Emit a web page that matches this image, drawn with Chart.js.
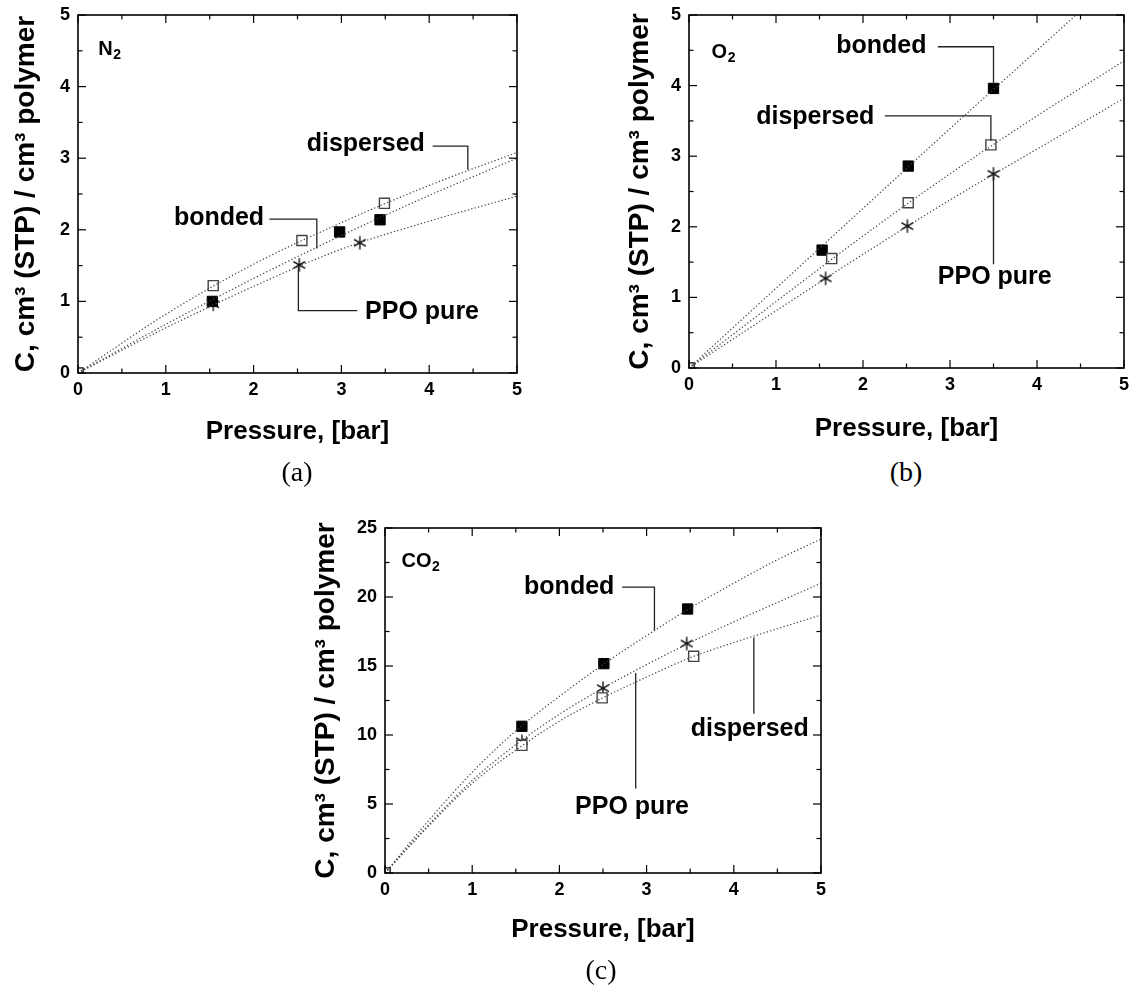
<!DOCTYPE html>
<html><head><meta charset="utf-8">
<script src="https://cdn.jsdelivr.net/npm/chart.js@4.4.1/dist/chart.umd.min.js"></script>
<style>
html,body{margin:0;padding:0;background:#fff;}
#wrap{position:relative;width:1133px;height:995px;overflow:hidden;background:#fff;}
.pan{position:absolute;}
.cap{position:absolute;font-family:"Liberation Serif","Times New Roman",serif;font-size:28px;color:#000;transform:translate(-50%,-50%);white-space:nowrap;}
</style></head><body>
<div id="wrap">
 <canvas id="ca" class="pan" width="560" height="455" style="left:0px;top:0px"></canvas>
 <canvas id="cb" class="pan" width="553" height="455" style="left:580px;top:0px"></canvas>
 <canvas id="cc" class="pan" width="560" height="515" style="left:280px;top:480px"></canvas>
 <div class="cap" style="left:297px;top:472px">(a)</div>
 <div class="cap" style="left:906px;top:472px">(b)</div>
 <div class="cap" style="left:601px;top:970px">(c)</div>
</div>
<script>
// ---------- tick values / labels ----------
const xTicks = [0, 1, 2, 3, 4, 5];
const xTickLabels = ['0', '1', '2', '3', '4', '5'];
const xMinor = [0.5, 1.5, 2.5, 3.5, 4.5];
const yTicksAB = [0, 1, 2, 3, 4, 5];
const yTickLabelsAB = ['0', '1', '2', '3', '4', '5'];
const yMinorAB = [0.5, 1.5, 2.5, 3.5, 4.5];
const yTicksC = [0, 5, 10, 15, 20, 25];
const yTickLabelsC = ['0', '5', '10', '15', '20', '25'];
const yMinorC = [2.5, 7.5, 12.5, 17.5, 22.5];

const xTitle = 'Pressure, [bar]';
const yTitle = 'C, cm³ (STP) / cm³ polymer';
const seriesNames = ['dispersed', 'bonded', 'PPO pure'];

// ---------- (a) N2 ----------
const n2FitX = [0, 1, 2, 3, 4, 5];
const n2DispersedFit = [0, 0.82, 1.52, 2.10, 2.62, 3.08];
const n2BondedFit = [0, 0.68, 1.32, 1.92, 2.48, 3.00];
const n2PureFit = [0, 0.63, 1.21, 1.73, 2.12, 2.47];
const n2DispersedX = [0, 1.54, 2.55, 3.49];
const n2DispersedY = [0, 1.22, 1.85, 2.37];
const n2BondedX = [0, 1.53, 2.98, 3.44];
const n2BondedY = [0, 1.00, 1.97, 2.14];
const n2PureX = [0, 1.54, 2.52, 3.21];
const n2PureY = [0, 0.96, 1.51, 1.82];
const n2LeadDispX = [4.04, 4.44, 4.44];
const n2LeadDispY = [3.17, 3.17, 2.84];
const n2LeadBondX = [2.18, 2.72, 2.72];
const n2LeadBondY = [2.15, 2.15, 1.74];
const n2LeadPureX = [2.51, 2.51, 3.18];
const n2LeadPureY = [1.50, 0.87, 0.87];
const n2LabelX = [3.95, 2.12, 3.27];
const n2LabelY = [3.19, 2.16, 0.85];
const n2LabelAlign = ['right', 'right', 'left'];

// ---------- (b) O2 ----------
const o2FitX = [0, 1, 2, 3, 4, 5];
const o2DispersedFit = [0, 0.94, 1.87, 2.75, 3.57, 4.35];
const o2BondedFit = [0, 1.13, 2.26, 3.39, 4.50, 5.62];
const o2PureFit = [0, 0.81, 1.61, 2.38, 3.10, 3.82];
const o2DispersedX = [0, 1.64, 2.52, 3.47];
const o2DispersedY = [0, 1.55, 2.34, 3.16];
const o2BondedX = [0, 1.53, 2.52, 3.50];
const o2BondedY = [0, 1.67, 2.86, 3.96];
const o2PureX = [0, 1.57, 2.51, 3.50];
const o2PureY = [0, 1.27, 2.01, 2.75];
const o2LeadDispX = [2.25, 3.47, 3.47];
const o2LeadDispY = [3.57, 3.57, 3.22];
const o2LeadBondX = [2.86, 3.50, 3.50];
const o2LeadBondY = [4.55, 4.55, 4.03];
const o2LeadPureX = [3.50, 3.50];
const o2LeadPureY = [2.75, 1.47];
const o2LabelX = [2.13, 2.73, 2.86];
const o2LabelY = [3.56, 4.56, 1.29];
const o2LabelAlign = ['right', 'right', 'left'];

// ---------- (c) CO2 ----------
const co2FitX = [0, 0.5, 1, 1.5, 2, 2.5, 3, 3.5, 4, 4.5, 5];
const co2DispersedFit = [0, 3.4, 6.5, 8.9, 11.0, 12.7, 14.2, 15.6, 16.7, 17.7, 18.7];
const co2BondedFit = [0, 3.8, 7.3, 10.3, 12.8, 15.1, 17.2, 19.2, 21.0, 22.7, 24.2];
const co2PureFit = [0, 3.5, 6.7, 9.3, 11.5, 13.4, 15.1, 16.7, 18.2, 19.6, 21.0];
const co2DispersedX = [0, 1.57, 2.49, 3.54];
const co2DispersedY = [0, 9.25, 12.69, 15.70];
const co2BondedX = [0, 1.57, 2.51, 3.47];
const co2BondedY = [0, 10.63, 15.17, 19.13];
const co2PureX = [0, 1.57, 2.50, 3.46];
const co2PureY = [0, 9.54, 13.39, 16.63];
const co2LeadDispX = [4.23, 4.23];
const co2LeadDispY = [17.07, 11.54];
const co2LeadBondX = [2.72, 3.09, 3.09];
const co2LeadBondY = [20.72, 20.72, 17.55];
const co2LeadPureX = [2.875, 2.875];
const co2LeadPureY = [14.5, 6.13];
const co2LabelX = [4.86, 2.63, 2.18];
const co2LabelY = [10.46, 20.72, 4.81];
const co2LabelAlign = ['right', 'right', 'left'];

const FONT = '"Liberation Sans", Arial, Helvetica, sans-serif';
Chart.defaults.font.family = FONT;
Chart.defaults.color = '#000';

function pts(xs, ys) { return xs.map((x, i) => ({ x: x, y: ys[i] })); }

function asteriskCanvas() {
  const c = document.createElement('canvas'); c.width = 16; c.height = 16;
  const g = c.getContext('2d'); g.strokeStyle = '#000'; g.lineWidth = 1.3;
  const r = 6.8, cx = 8, cy = 8;
  [90, 30, -30].forEach(deg => {
    const t = deg * Math.PI / 180;
    g.beginPath(); g.moveTo(cx - r * Math.cos(t), cy - r * Math.sin(t));
    g.lineTo(cx + r * Math.cos(t), cy + r * Math.sin(t)); g.stroke();
  });
  return c;
}
const ASTER = asteriskCanvas();

const decor = {
  id: 'decor',
  afterDatasetsDraw(chart, args, o) {
    const ctx = chart.ctx, a = chart.chartArea, x = chart.scales.x, y = chart.scales.y;
    ctx.save();
    ctx.strokeStyle = '#000'; ctx.lineWidth = 1.6;
    ctx.strokeRect(a.left, a.top, a.right - a.left, a.bottom - a.top);
    ctx.lineWidth = 1.2;
    const seg = (x1, y1, x2, y2) => { ctx.beginPath(); ctx.moveTo(x1, y1); ctx.lineTo(x2, y2); ctx.stroke(); };
    const xt = (vals, len) => vals.forEach(v => { const p = x.getPixelForValue(v); seg(p, a.bottom, p, a.bottom - len); seg(p, a.top, p, a.top + len); });
    const yt = (vals, len) => vals.forEach(v => { const p = y.getPixelForValue(v); seg(a.left, p, a.left + len, p); seg(a.right, p, a.right - len, p); });
    xt(o.xMajor, 8); xt(o.xMinor, 4.5); yt(o.yMajor, 8); yt(o.yMinor, 4.5);
    ctx.fillStyle = '#000'; ctx.textBaseline = 'middle';
    ctx.font = 'bold 25px ' + FONT;
    o.labelX.forEach((lx, i) => {
      ctx.textAlign = o.labelAlign[i];
      ctx.fillText(seriesNames[i], x.getPixelForValue(lx), y.getPixelForValue(o.labelY[i]));
    });
    const gx = x.getPixelForValue(o.gas.x), gy = y.getPixelForValue(o.gas.y);
    ctx.textAlign = 'left';
    ctx.font = 'bold 20px ' + FONT; ctx.fillText(o.gas.main, gx, gy);
    const w = ctx.measureText(o.gas.main).width;
    ctx.font = 'bold 14px ' + FONT; ctx.fillText(o.gas.sub, gx + w + 0.5, gy + 6);
    ctx.restore();
  }
};

function panel(id, P) {
  const fitStyle = { showLine: true, pointRadius: 0, borderColor: '#444', borderWidth: 1.2, borderDash: [1.3, 2.2], fill: false, tension: 0.4, cubicInterpolationMode: 'monotone' };
  const leadStyle = { showLine: true, pointRadius: 0, borderColor: '#222', borderWidth: 1.3, fill: false };
  const datasets = [
    Object.assign({ label: 'dispersed fit', data: pts(P.fitX, P.fits[0]) }, fitStyle),
    Object.assign({ label: 'bonded fit', data: pts(P.fitX, P.fits[1]) }, fitStyle),
    Object.assign({ label: 'PPO pure fit', data: pts(P.fitX, P.fits[2]) }, fitStyle),
    Object.assign({ label: 'lead dispersed', data: pts(P.leads[0][0], P.leads[0][1]) }, leadStyle),
    Object.assign({ label: 'lead bonded', data: pts(P.leads[1][0], P.leads[1][1]) }, leadStyle),
    Object.assign({ label: 'lead pure', data: pts(P.leads[2][0], P.leads[2][1]) }, leadStyle),
    { label: 'dispersed', data: pts(P.pts[0][0], P.pts[0][1]), showLine: false, clip: 0, pointStyle: 'rect', pointRadius: 7.1, backgroundColor: '#fff', borderColor: '#444', borderWidth: 1.4 },
    { label: 'bonded', data: pts(P.pts[1][0], P.pts[1][1]), showLine: false, clip: 0, pointStyle: 'rect', pointRadius: 7.3, backgroundColor: '#000', borderColor: '#000', borderWidth: 1 },
    { label: 'PPO pure', data: pts(P.pts[2][0], P.pts[2][1]), showLine: false, clip: 0, pointStyle: ASTER, pointRadius: 7 }
  ];
  return new Chart(document.getElementById(id), {
    type: 'scatter',
    data: { datasets: datasets },
    plugins: [decor],
    options: {
      responsive: false, animation: false, events: [],
      layout: { padding: { left: P.padL, top: P.padT, right: P.padR, bottom: 0 } },
      plugins: {
        legend: { display: false }, tooltip: { enabled: false },
        decor: { xMajor: xTicks, xMinor: xMinor, yMajor: P.yTicks, yMinor: P.yMinor, labelX: P.labelX, labelY: P.labelY, labelAlign: P.labelAlign, gas: P.gas }
      },
      scales: {
        x: {
          type: 'linear', min: 0, max: 5,
          grid: { display: false, drawTicks: false }, border: { display: false },
          afterBuildTicks: s => { s.ticks = xTicks.map(v => ({ value: v })); },
          afterFit: s => { s.height = P.xH; s.paddingLeft = 0; s.paddingRight = 0; },
          ticks: { font: { size: 18, weight: 'bold' }, color: '#000', padding: 6, autoSkip: false, maxRotation: 0, callback: (v, i) => xTickLabels[i] },
          title: { display: true, text: xTitle, color: '#000', font: { size: 26, weight: 'bold' }, padding: { top: 0, bottom: P.xTitlePad } }
        },
        y: {
          type: 'linear', min: 0, max: P.yMax,
          grid: { display: false, drawTicks: false }, border: { display: false },
          afterBuildTicks: s => { s.ticks = P.yTicks.map(v => ({ value: v })); },
          afterFit: s => { s.width = P.yW; s.paddingTop = 0; s.paddingBottom = 0; },
          ticks: { font: { size: 18, weight: 'bold' }, color: '#000', padding: 8, autoSkip: false, callback: (v, i) => P.yLabels[i] },
          title: { display: true, text: yTitle, color: '#000', font: { size: 28, weight: 'bold' }, padding: { top: P.yTitlePad, bottom: 0 } }
        }
      }
    }
  });
}

panel('ca', {
  padL: 0, yW: 78, padT: 15, padR: 43, xH: 82, xTitlePad: 7.4, yTitlePad: 9.2, yMax: 5,
  yTicks: yTicksAB, yLabels: yTickLabelsAB, yMinor: yMinorAB,
  fitX: n2FitX, fits: [n2DispersedFit, n2BondedFit, n2PureFit],
  pts: [[n2DispersedX, n2DispersedY], [n2BondedX, n2BondedY], [n2PureX, n2PureY]],
  leads: [[n2LeadDispX, n2LeadDispY], [n2LeadBondX, n2LeadBondY], [n2LeadPureX, n2LeadPureY]],
  labelX: n2LabelX, labelY: n2LabelY, labelAlign: n2LabelAlign,
  gas: { main: 'N', sub: '2', x: 0.23, y: 4.52 }
});
panel('cb', {
  padL: 31, yW: 78, padT: 15, padR: 9, xH: 87, xTitlePad: 10.4, yTitlePad: 12, yMax: 5,
  yTicks: yTicksAB, yLabels: yTickLabelsAB, yMinor: yMinorAB,
  fitX: o2FitX, fits: [o2DispersedFit, o2BondedFit, o2PureFit],
  pts: [[o2DispersedX, o2DispersedY], [o2BondedX, o2BondedY], [o2PureX, o2PureY]],
  leads: [[o2LeadDispX, o2LeadDispY], [o2LeadBondX, o2LeadBondY], [o2LeadPureX, o2LeadPureY]],
  labelX: o2LabelX, labelY: o2LabelY, labelAlign: o2LabelAlign,
  gas: { main: 'O', sub: '2', x: 0.26, y: 4.47 }
});
panel('cc', {
  padL: 26, yW: 79, padT: 48, padR: 19, xH: 122, xTitlePad: 49.4, yTitlePad: 3.5, yMax: 25,
  yTicks: yTicksC, yLabels: yTickLabelsC, yMinor: yMinorC,
  fitX: co2FitX, fits: [co2DispersedFit, co2BondedFit, co2PureFit],
  pts: [[co2DispersedX, co2DispersedY], [co2BondedX, co2BondedY], [co2PureX, co2PureY]],
  leads: [[co2LeadDispX, co2LeadDispY], [co2LeadBondX, co2LeadBondY], [co2LeadPureX, co2LeadPureY]],
  labelX: co2LabelX, labelY: co2LabelY, labelAlign: co2LabelAlign,
  gas: { main: 'CO', sub: '2', x: 0.19, y: 22.6 }
});
</script>
</body></html>
